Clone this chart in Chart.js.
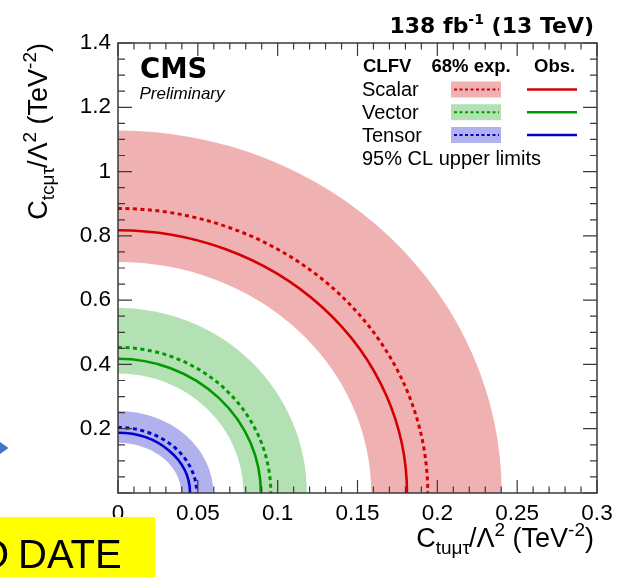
<!DOCTYPE html>
<html>
<head>
<meta charset="utf-8">
<title>CLFV limits</title>
<script src="https://cdn.jsdelivr.net/npm/chart.js@4/dist/chart.umd.min.js"></script>
<style>
  html, body { margin: 0; padding: 0; background: #fff; overflow: hidden; }
  #wrap { position: relative; width: 641px; height: 577px; }
  canvas { display: block; }
</style>
</head>
<body>
<div id="wrap"><canvas id="c" width="641" height="577"></canvas></div>
<script>
// 95% CL upper limits on the top-quark CLFV Wilson coefficients (TeV^-2).
// Each contour is a quarter ellipse given by its two axis intercepts:
// X = C_tuμτ/Λ², Y = C_tcμτ/Λ².
const models      = ['Scalar', 'Vector', 'Tensor'];
const obsX        = [0.181,  0.0895, 0.0451];
const obsY        = [0.8175, 0.4175, 0.1875];
const expX        = [0.194,  0.0957, 0.0493];
const expY        = [0.885,  0.453,  0.204];
const bandLowX    = [0.1586, 0.0786, 0.0395];
const bandLowY    = [0.719,  0.372,  0.156];
const bandHighX   = [0.2403, 0.1183, 0.0597];
const bandHighY   = [1.128,  0.576,  0.255];

const xTickLabels = ['0', '0.05', '0.1', '0.15', '0.2', '0.25', '0.3'];
const yTickLabels = ['', '0.2', '0.4', '0.6', '0.8', '1', '1.2', '1.4'];

const bandColors = ['#f0b1b3', '#b4e1b4', '#b1b1ee'];
const lineColors = ['#d40000', '#009a00', '#0000d0'];

const SANS = '"Liberation Sans", Arial, sans-serif';
const DEJA = '"DejaVu Sans", sans-serif';

function fmtTick(v, labels, step) {
  const i = Math.round(v / step);
  return labels[i] !== undefined ? labels[i] : '';
}

// Draw a run of text pieces with differing fonts / vertical offsets.
function richWidth(ctx, runs) {
  let w = 0;
  for (const r of runs) { ctx.font = r.font; w += ctx.measureText(r.t).width + (r.kern || 0); }
  return w;
}
function drawRich(ctx, runs, x, y, align) {
  let cx = align === 'right' ? x - richWidth(ctx, runs) : x;
  ctx.textAlign = 'left';
  ctx.textBaseline = 'alphabetic';
  for (const r of runs) {
    ctx.font = r.font;
    ctx.fillText(r.t, cx, y + (r.dy || 0));
    cx += ctx.measureText(r.t).width + (r.kern || 0);
  }
}

function quarterBand(ctx, cx, cy, rxO, ryO, rxI, ryI) {
  ctx.beginPath();
  ctx.ellipse(cx, cy, rxO, ryO, 0, -Math.PI / 2, 0, false);
  ctx.ellipse(cx, cy, rxI, ryI, 0, 0, -Math.PI / 2, true);
  ctx.closePath();
  ctx.fill();
}
function quarterArc(ctx, cx, cy, rx, ry) {
  ctx.beginPath();
  ctx.ellipse(cx, cy, rx, ry, 0, -Math.PI / 2, 0, false);
  ctx.stroke();
}

const contourPlugin = {
  id: 'contours',
  beforeDatasetsDraw(chart) {
    const { ctx, chartArea, scales: { x, y } } = chart;
    const cx = x.getPixelForValue(0), cy = y.getPixelForValue(0);
    const rx = v => x.getPixelForValue(v) - cx;
    const ry = v => cy - y.getPixelForValue(v);
    ctx.save();
    ctx.beginPath();
    ctx.rect(chartArea.left, chartArea.top, chartArea.right - chartArea.left, chartArea.bottom - chartArea.top);
    ctx.clip();
    // 68% expected bands
    models.forEach((m, i) => {
      ctx.fillStyle = bandColors[i];
      quarterBand(ctx, cx, cy, rx(bandHighX[i]), ry(bandHighY[i]), rx(bandLowX[i]), ry(bandLowY[i]));
    });
    // median expected (dotted) and observed (solid)
    models.forEach((m, i) => {
      ctx.strokeStyle = lineColors[i];
      ctx.lineWidth = 3;
      ctx.setLineDash([4, 3.5]);
      quarterArc(ctx, cx, cy, rx(expX[i]), ry(expY[i]));
      ctx.setLineDash([]);
      ctx.lineWidth = 2.6;
      quarterArc(ctx, cx, cy, rx(obsX[i]), ry(obsY[i]));
    });
    ctx.restore();
  },
  afterDraw(chart) {
    const { ctx, chartArea: { left, right, top, bottom }, scales: { x, y } } = chart;
    ctx.save();
    // frame
    ctx.strokeStyle = '#3a3a3a';
    ctx.lineWidth = 1.5;
    ctx.strokeRect(left, top, right - left, bottom - top);
    // inward ticks on all four sides
    ctx.lineWidth = 1.2;
    ctx.beginPath();
    for (let i = 0; i <= 30; i++) {
      const px = x.getPixelForValue(i * 0.01);
      const len = i % 5 === 0 ? 13 : 6.5;
      ctx.moveTo(px, bottom); ctx.lineTo(px, bottom - len);
      ctx.moveTo(px, top); ctx.lineTo(px, top + len);
    }
    for (let i = 0; i <= 28; i++) {
      const py = y.getPixelForValue(i * 0.05);
      const len = i % 4 === 0 ? 14 : 7;
      ctx.moveTo(left, py); ctx.lineTo(left + len, py);
      ctx.moveTo(right, py); ctx.lineTo(right - len, py);
    }
    ctx.stroke();

    ctx.fillStyle = '#000';
    // luminosity / energy
    drawRich(ctx, [
      { t: '138 fb', font: 'bold 22px ' + DEJA },
      { t: '-1', font: 'bold 14px ' + DEJA, dy: -9 },
      { t: ' (13 TeV)', font: 'bold 22px ' + DEJA }
    ], 594, 33, 'right');
    // CMS label
    ctx.font = 'bold 27.5px ' + DEJA;
    ctx.textAlign = 'left';
    ctx.fillText('CMS', 140, 77.5);
    ctx.font = 'italic 17px ' + SANS;
    ctx.fillText('Preliminary', 139.5, 99);

    // legend
    ctx.font = 'bold 18.5px ' + SANS;
    ctx.fillText('CLFV', 363, 71.5);
    ctx.fillText('68% exp.', 431.5, 71.5);
    ctx.fillText('Obs.', 534, 71.5);
    ctx.font = '20px ' + SANS;
    const rowY = [89.5, 112.2, 135];
    models.forEach((m, i) => {
      ctx.fillStyle = '#000';
      ctx.fillText(m, 362, rowY[i] + 6.7);
      ctx.fillStyle = bandColors[i];
      ctx.fillRect(451, rowY[i] - 8, 50, 16);
      ctx.strokeStyle = lineColors[i];
      ctx.lineWidth = 2;
      ctx.setLineDash([3, 2.5]);
      ctx.beginPath(); ctx.moveTo(454, rowY[i]); ctx.lineTo(499, rowY[i]); ctx.stroke();
      ctx.setLineDash([]);
      ctx.lineWidth = 2.6;
      ctx.beginPath(); ctx.moveTo(527, rowY[i]); ctx.lineTo(577, rowY[i]); ctx.stroke();
    });
    ctx.fillStyle = '#000';
    ctx.fillText('95% CL upper limits', 362, 164.5);

    // axis titles
    const T = '27px ' + SANS, S = '19px ' + SANS;
    drawRich(ctx, [
      { t: 'C', font: T },
      { t: 'tuμτ', font: S, dy: 7, kern: -1 },
      { t: '/Λ', font: T },
      { t: '2', font: S, dy: -11 },
      { t: ' (TeV', font: T },
      { t: '-2', font: S, dy: -11 },
      { t: ')', font: T }
    ], 594, 547, 'right');
    ctx.save();
    ctx.translate(47, 43);
    ctx.rotate(-Math.PI / 2);
    drawRich(ctx, [
      { t: 'C', font: T },
      { t: 'tcμτ', font: S, dy: 7, kern: -1 },
      { t: '/Λ', font: T },
      { t: '2', font: S, dy: -11 },
      { t: ' (TeV', font: T },
      { t: '-2', font: S, dy: -11 },
      { t: ')', font: T }
    ], 0, 0, 'right');
    ctx.restore();

    // slide overlays at the page edge
    ctx.fillStyle = '#4472c4';
    ctx.beginPath(); ctx.moveTo(0, 442); ctx.lineTo(8.5, 448); ctx.lineTo(0, 454); ctx.closePath(); ctx.fill();
    ctx.fillStyle = '#ffff00';
    ctx.fillRect(0, 517, 155, 60);
    ctx.fillStyle = '#000';
    ctx.font = '40px ' + SANS;
    ctx.fillText('O', -22, 568);
    ctx.fillText('DATE', 18, 568);
    ctx.restore();
  }
};

const canvas = document.getElementById('c');
new Chart(canvas, {
  type: 'scatter',
  data: { datasets: [] },
  options: {
    responsive: false,
    animation: false,
    devicePixelRatio: 1,
    layout: { padding: { top: 43, right: 44, left: 0, bottom: 0 } },
    plugins: { legend: { display: false }, tooltip: { enabled: false }, title: { display: false } },
    scales: {
      x: {
        type: 'linear', min: 0, max: 0.3,
        afterFit(s) { s.height = 84; },
        grid: { display: false, drawTicks: false },
        border: { display: false },
        ticks: {
          stepSize: 0.05, autoSkip: false, maxRotation: 0, padding: 7, color: '#000',
          font: { family: 'Liberation Sans', size: 22.5 },
          callback: v => fmtTick(v, xTickLabels, 0.05)
        }
      },
      y: {
        type: 'linear', min: 0, max: 1.4,
        afterFit(s) { s.width = 118; },
        grid: { display: false, drawTicks: false },
        border: { display: false },
        ticks: {
          stepSize: 0.2, autoSkip: false, padding: 7, color: '#000',
          font: { family: 'Liberation Sans', size: 22.5 },
          callback: v => fmtTick(v, yTickLabels, 0.2)
        }
      }
    }
  },
  plugins: [contourPlugin]
});
</script>
</body>
</html>
